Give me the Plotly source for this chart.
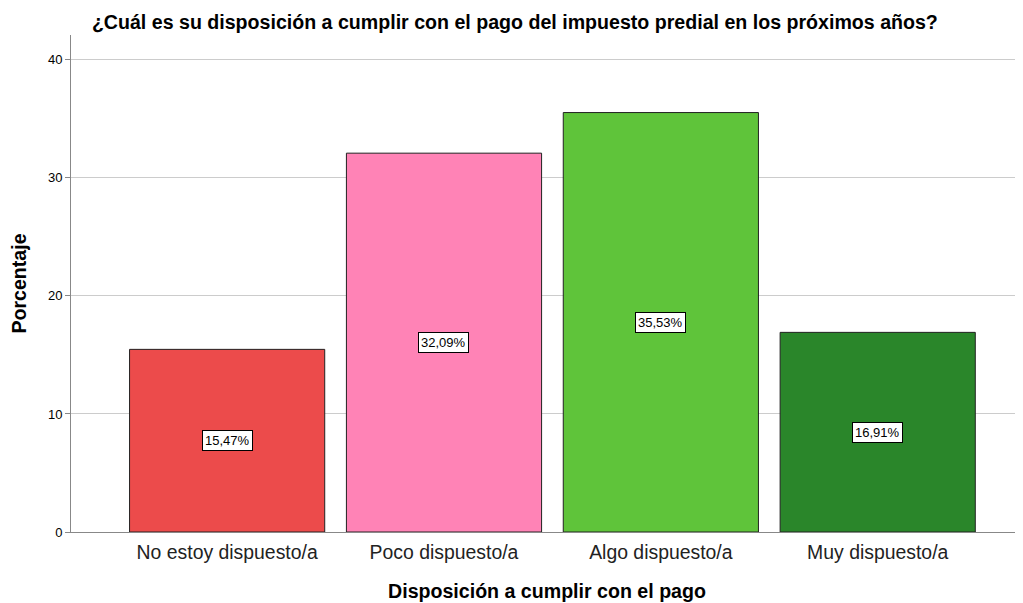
import plotly.graph_objs as go

CATEGORIES = ["No estoy dispuesto/a", "Poco dispuesto/a", "Algo dispuesto/a", "Muy dispuesto/a"]
PERCENTS = [15.47, 32.09, 35.53, 16.91]
LABELS = ["15,47%", "32,09%", "35,53%", "16,91%"]
COLORS = ["#EC4B4B", "#FF83B6", "#5FC43A", "#2A862A"]
Y_TICKS = [0, 10, 20, 30, 40]

FONT = "Liberation Sans, Arial, sans-serif"

fig = go.Figure(
    go.Bar(
        x=CATEGORIES,
        y=PERCENTS,
        marker=dict(color=COLORS, line=dict(color="#222222", width=1)),
        hoverinfo="x+y",
    )
)

# value boxes sit at the middle of each bar
for cat, val, lab in zip(CATEGORIES, PERCENTS, LABELS):
    fig.add_annotation(
        x=cat, y=val / 2, text=lab, showarrow=False,
        font=dict(family=FONT, size=13, color="black"),
        bgcolor="white", bordercolor="black", borderwidth=1, borderpad=2,
    )

# the page body has an 8px margin, so margins are shifted accordingly
fig.update_layout(
    width=1023, height=603,
    margin=dict(l=61, r=8, t=27, b=79),
    paper_bgcolor="white", plot_bgcolor="white",
    bargap=0.1,
    showlegend=False,
    font=dict(family=FONT, color="black"),
    title=dict(
        text="<b>¿Cuál es su disposición a cumplir con el pago del impuesto predial en los próximos años?</b>",
        x=0.082, xanchor="left", y=0.977, yanchor="middle",
        font=dict(size=19.6, family=FONT),
    ),
    xaxis=dict(
        range=[-0.72, 3.67],
        showline=True, linecolor="#888888", linewidth=1,
        ticks="outside", ticklen=3, tickcolor="rgba(0,0,0,0)",
        tickfont=dict(size=19.4, color="#222222"),
        title=dict(text="<b>Disposición a cumplir con el pago</b>", font=dict(size=19.6), standoff=21),
    ),
    yaxis=dict(
        range=[0, 42.1],
        tickvals=Y_TICKS,
        showline=True, linecolor="#888888", linewidth=1,
        ticks="outside", ticklen=5, tickcolor="#888888",
        showgrid=True, gridcolor="#cccccc", gridwidth=1,
        zeroline=False,
        tickfont=dict(size=13),
        title=dict(text="<b>Porcentaje</b>", font=dict(size=19.6), standoff=18),
    ),
)

fig.write_html("out.html")
